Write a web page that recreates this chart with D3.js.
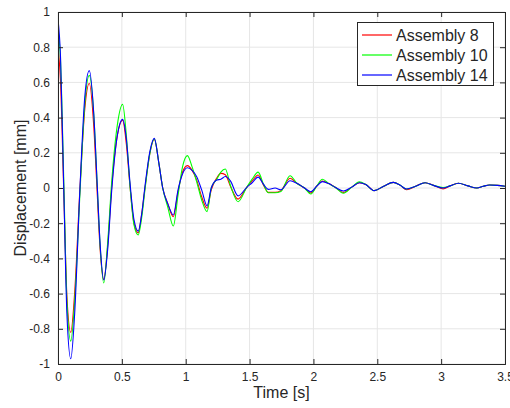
<!DOCTYPE html>
<html><head><meta charset="utf-8">
<script src="https://cdn.jsdelivr.net/npm/d3@7"></script>
<style>body{margin:0;background:#fff}svg{display:block}text{font-family:"Liberation Sans",Arial,sans-serif;fill:#262626}</style>
</head><body><svg id="c" width="510" height="408"></svg>
<script>
const time = [0,0.02,0.045,0.07,0.1,0.13,0.172,0.21,0.245,0.28,0.305,0.33,0.358,0.39,0.42,0.465,0.506,0.535,0.565,0.595,0.628,0.655,0.681,0.72,0.754,0.79,0.82,0.86,0.903,0.94,0.975,1.013,1.05,1.086,1.125,1.167,1.2,1.243,1.275,1.31,1.35,1.41,1.478,1.52,1.567,1.61,1.647,1.70,1.745,1.817,1.87,1.93,1.98,2.025,2.07,2.12,2.17,2.235,2.3,2.36,2.41,2.475,2.55,2.626,2.68,2.73,2.8,2.874,2.94,3.015,3.07,3.135,3.21,3.28,3.33,3.38,3.44,3.5];
const assembly8 = [0.80,0.60,-0.02,-0.62,-0.82,-0.60,0.0,0.45,0.595,0.35,0.0,-0.35,-0.52,-0.32,0.0,0.30,0.385,0.25,0.0,-0.20,-0.255,-0.15,0.0,0.20,0.278,0.14,0.0,-0.09,-0.163,-0.02,0.09,0.127,0.10,0.045,-0.05,-0.115,-0.01,0.057,0.083,0.075,0.01,-0.063,0.004,0.04,0.074,0.015,-0.025,-0.025,-0.015,0.055,0.027,0.0,-0.028,0.01,0.04,0.025,0.004,-0.025,0.005,0.03,0.02,-0.015,0.01,0.032,0.015,-0.01,0.01,0.03,0.015,-0.005,0.012,0.027,0.012,0.0,0.01,0.017,0.015,0.01];
const assembly10 = [0.90,0.72,0.05,-0.65,-0.87,-0.65,-0.03,0.48,0.64,0.42,0.05,-0.33,-0.54,-0.30,0.03,0.36,0.475,0.30,0.0,-0.21,-0.267,-0.17,-0.01,0.20,0.278,0.14,0.0,-0.11,-0.216,-0.04,0.12,0.184,0.12,0.035,-0.068,-0.134,0.0,0.05,0.09,0.108,0.015,-0.078,0.004,0.05,0.09,0.02,-0.027,-0.027,-0.02,0.07,0.027,0.0,-0.034,0.01,0.05,0.025,0.004,-0.03,0.005,0.035,0.02,-0.015,0.01,0.032,0.015,-0.006,0.01,0.03,0.015,0.002,0.012,0.027,0.012,0.0,0.01,0.017,0.015,0.01];
const assembly14 = [0.96,0.74,0.0,-0.72,-0.97,-0.72,0.0,0.52,0.667,0.42,0.05,-0.32,-0.523,-0.34,-0.02,0.30,0.39,0.28,0.02,-0.18,-0.245,-0.15,0.01,0.21,0.282,0.14,0.0,-0.09,-0.153,-0.01,0.08,0.115,0.10,0.064,-0.011,-0.102,0.0,0.045,0.05,0.065,0.04,-0.045,0.004,0.03,0.062,0.02,-0.008,0.0,-0.01,0.041,0.027,0.0,-0.021,0.01,0.036,0.025,0.004,-0.017,0.005,0.03,0.02,-0.015,0.01,0.032,0.015,-0.006,0.01,0.03,0.015,0.0,0.012,0.027,0.012,0.0,0.01,0.017,0.015,0.01];
const seriesNames = ["Assembly 8","Assembly 10","Assembly 14"];
const seriesColors = ["#ff0000","#00ff00","#0000ff"];
const xTicks = [0,0.5,1,1.5,2,2.5,3,3.5];
const yTicks = [-1,-0.8,-0.6,-0.4,-0.2,0,0.2,0.4,0.6,0.8,1];

const svg = d3.select("#c");
const L=58,R=505,T=12,B=364;
const x = d3.scaleLinear().domain([0,3.5]).range([L,R]);
const y = d3.scaleLinear().domain([-1,1]).range([B,T]);
const fmt = d=>String(d);

// grid
const g = svg.append("g");
g.selectAll(".gx").data(xTicks).enter().append("line")
 .attr("x1",d=>x(d)).attr("x2",d=>x(d)).attr("y1",T).attr("y2",B)
 .attr("stroke","#e6e6e6").attr("stroke-width",1);
g.selectAll(".gy").data(yTicks).enter().append("line")
 .attr("y1",d=>y(d)).attr("y2",d=>y(d)).attr("x1",L).attr("x2",R)
 .attr("stroke","#e6e6e6").attr("stroke-width",1);

// data lines
svg.append("clipPath").attr("id","clip").append("rect").attr("x",L).attr("y",T).attr("width",R-L).attr("height",B-T);
const line = d3.line().x(d=>x(d[0])).y(d=>y(d[1])).curve(d3.curveMonotoneX);
const all=[assembly8,assembly10,assembly14];
all.forEach((vals,i)=>{
  svg.append("path").attr("clip-path","url(#clip)")
   .datum(time.map((t,j)=>[t,vals[j]]))
   .attr("d",line).attr("fill","none").attr("stroke",seriesColors[i]).attr("stroke-width",1.1);
});

// axes (ticks inward on all sides)
const tl=5;
const axB = d3.axisBottom(x).tickValues(xTicks).tickSize(-tl).tickPadding(8).tickFormat(fmt);
const axT = d3.axisTop(x).tickValues(xTicks).tickSize(-tl).tickFormat("");
const axL = d3.axisLeft(y).tickValues(yTicks).tickSize(-tl).tickPadding(8).tickFormat(fmt);
const axR = d3.axisRight(y).tickValues(yTicks).tickSize(-tl).tickFormat("");
[[axB,`translate(0,${B})`],[axT,`translate(0,${T})`],[axL,`translate(${L},0)`],[axR,`translate(${R},0)`]].forEach(([a,tr])=>{
  const ag = svg.append("g").attr("transform",tr).call(a);
  ag.select(".domain").attr("stroke","#262626");
  ag.selectAll(".tick line").attr("stroke","#262626");
  ag.selectAll("text").style("font-size","12px").attr("fill","#262626").style("font-family",'"Liberation Sans",Arial,sans-serif');
});

// axis labels
svg.append("text").attr("x",(L+R)/2).attr("y",398).attr("text-anchor","middle").style("font-size","16px").text("Time [s]");
svg.append("text").attr("transform",`translate(26,${(T+B)/2}) rotate(-90)`).attr("text-anchor","middle").style("font-size","16px").text("Displacement [mm]");

// legend
const lg = svg.append("g");
lg.append("rect").attr("x",357.5).attr("y",22.5).attr("width",136).attr("height",63).attr("fill","#fff").attr("stroke","#262626");
seriesNames.forEach((n,i)=>{
  const yy = 35+i*20;
  lg.append("line").attr("x1",362).attr("x2",392).attr("y1",yy).attr("y2",yy).attr("stroke",seriesColors[i]).attr("stroke-width",1.2);
  lg.append("text").attr("x",396).attr("y",yy+5.5).style("font-size","16px").attr("fill","#000").text(n);
});
</script></body></html>
